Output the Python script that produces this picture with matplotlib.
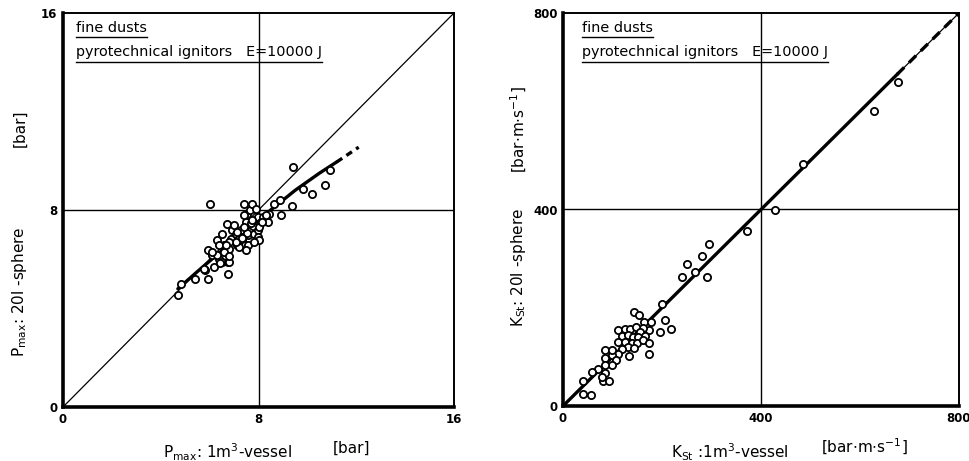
import matplotlib
matplotlib.use("Agg")
import matplotlib.pyplot as plt

# ---------------- data ----------------
# Left: Pmax 1 m3 vessel (x) vs Pmax 20 l sphere (y), bar
pmax_1m3 = [4.70, 4.81, 5.39, 5.93, 5.83, 5.94, 6.03, 6.17, 6.10, 6.38, 6.31, 6.49, 6.58, 6.52,
            6.76, 6.76, 6.72, 6.79, 6.86, 6.93, 7.06, 7.13, 7.20, 7.27, 7.34, 7.45, 7.41, 7.54,
            7.48, 7.59, 7.64, 7.75, 7.78, 7.82, 7.89, 7.96, 7.96, 7.99, 8.02, 8.09, 8.19, 8.37,
            8.41, 8.64, 8.87, 8.92, 9.36, 9.40, 9.81, 10.19, 10.73, 10.91,
            5.76, 6.44, 6.79, 6.31, 6.58, 6.79, 6.10, 7.20, 7.06, 6.79, 7.54, 7.33, 7.58, 7.81,
            8.02, 8.16, 7.40, 7.13, 7.68, 6.99, 7.74, 7.47, 6.38, 6.65, 8.29, 7.40]
pmax_20l = [4.53, 4.98, 5.20, 5.20, 5.58, 6.39, 8.23, 5.68, 6.16, 6.02, 6.79, 7.04, 6.56, 5.89,
            5.41, 5.89, 7.42, 6.42, 6.83, 7.17, 7.04, 6.56, 6.83, 7.20, 6.77, 6.56, 8.23, 7.85,
            7.51, 6.97, 8.00, 8.23, 7.33, 7.04, 8.04, 7.71, 7.20, 6.90, 6.77, 7.51, 7.71, 7.51,
            7.85, 8.23, 8.42, 7.79, 8.18, 9.74, 8.84, 8.66, 9.03, 9.64,
            5.59, 5.86, 5.90, 6.17, 6.31, 6.13, 6.31, 6.51, 6.71, 6.71, 7.05, 6.85, 6.58, 6.71,
            7.32, 7.53, 7.32, 7.12, 7.46, 7.39, 7.60, 6.38, 6.58, 6.58, 7.80, 7.80]
# fitted curve (solid part and dashed extrapolation)
pfit_x = [4.7, 5.5, 6.5, 7.5, 8.5, 9.5, 10.5, 11.2]
pfit_y = [4.8, 5.5, 6.35, 7.2, 8.0, 8.8, 9.5, 9.95]
pext_x = [11.2, 12.1]
pext_y = [9.95, 10.55]

# Right: KSt 1 m3 vessel (x) vs KSt 20 l sphere (y), bar m/s
kst_1m3 = [676, 628, 484, 429, 371, 295, 280, 250, 267, 240, 290, 199, 206, 218, 195,
           143, 154, 164, 177, 174, 162, 112, 125, 135, 147, 156, 119, 132, 142, 152,
           166, 112, 125, 139, 149, 162, 174, 174, 132, 143, 119, 133, 112, 98, 85,
           98, 85, 108, 98, 85, 71, 59, 85, 80, 93, 41, 40, 57, 78]
kst_20l = [659, 601, 493, 399, 356, 330, 306, 289, 273, 262, 262, 208, 176, 157, 151,
           192, 185, 170, 170, 155, 158, 155, 156, 156, 160, 151, 142, 145, 141, 141,
           142, 131, 131, 128, 129, 134, 128, 106, 121, 119, 117, 102, 106, 104, 114,
           114, 97, 94, 83, 83, 75, 70, 67, 50, 50, 51, 24, 22, 60]
kfit_x = [0, 675]
kfit_y = [0, 675]
kext_x = [675, 800]
kext_y = [675, 800]

# ticks
p_ticks = [0, 8, 16]
k_ticks = [0, 400, 800]
title1 = "fine dusts"
title2 = "pyrotechnical ignitors   E=10000 J"

# ---------------- figure ----------------
W, H = 970, 461
fig = plt.figure(figsize=(W / 100, H / 100), dpi=100)
fig.patch.set_facecolor("white")

axL = fig.add_axes([63 / W, 1 - 407 / H, 391 / W, 394 / H])
axR = fig.add_axes([563 / W, 1 - 406 / H, 396 / W, 393 / H])


def style(ax, ticks, lim):
    ax.set_xlim(0, lim)
    ax.set_ylim(0, lim)
    ax.set_xticks(ticks)
    ax.set_yticks(ticks)
    ax.set_xticklabels([str(t) for t in ticks], fontsize=8.5, fontweight="bold")
    ax.set_yticklabels([str(t) for t in ticks], fontsize=8.5, fontweight="bold")
    ax.tick_params(length=0, pad=4)
    for s in ["left", "bottom"]:
        ax.spines[s].set_linewidth(2.6)
    for s in ["top", "right"]:
        ax.spines[s].set_linewidth(1.4)
    ax.axvline(ticks[1], color="black", lw=1.0, zorder=1)
    ax.axhline(ticks[1], color="black", lw=1.0, zorder=1)
    ax.plot([0, lim], [0, lim], color="black", lw=0.9, zorder=1)


style(axL, p_ticks, 16)
style(axR, k_ticks, 800)

mk = dict(ls="none", marker="o", ms=5.2, mfc="white", mec="black", mew=1.3, zorder=3)
axL.plot(pmax_1m3, pmax_20l, **mk)
axL.plot(pfit_x, pfit_y, color="black", lw=2.4, zorder=2, solid_capstyle="round")
axL.plot(pext_x, pext_y, color="black", lw=2.4, ls=(0, (2, 1.5)), zorder=2)

axR.plot(kst_1m3, kst_20l, **mk)
axR.plot(kfit_x, kfit_y, color="black", lw=2.4, zorder=2)
axR.plot(kext_x, kext_y, color="black", lw=2.4, ls=(0, (3, 2)), zorder=2)

# header texts with underline
txts = []
for ax, x0 in [(axL, 0.033), (axR, 0.048)]:
    t1 = ax.text(x0, 0.952, title1, transform=ax.transAxes, fontsize=10.4, va="baseline")
    t2 = ax.text(x0, 0.890, title2, transform=ax.transAxes, fontsize=10.4, va="baseline")
    txts.append((ax, t1))
    txts.append((ax, t2))

fig.canvas.draw()
r = fig.canvas.get_renderer()
for ax, t in txts:
    bb = t.get_window_extent(renderer=r)
    inv = ax.transAxes.inverted()
    (xa, ya), (xb, yb) = inv.transform([(bb.x0, bb.y0), (bb.x1, bb.y0)])
    ya -= 0.006
    ax.plot([xa, xb], [ya, ya], transform=ax.transAxes, color="black", lw=1.0, clip_on=False)

# axis labels
def fx(px):
    return px / W


def fy(py):
    return 1 - py / H


fs = 11
fig.text(fx(228), fy(452), r"P$_{\mathregular{max}}$: 1m$^{3}$-vessel", ha="center", va="center", fontsize=fs)
fig.text(fx(352), fy(448), "[bar]", ha="center", va="center", fontsize=fs)
fig.text(fx(20), fy(292), r"P$_{\mathregular{max}}$: 20l -sphere", ha="center", va="center", fontsize=fs, rotation=90)
fig.text(fx(20), fy(128), "[bar]", ha="center", va="center", fontsize=fs, rotation=90)

fig.text(fx(730), fy(452), r"K$_{\mathregular{St}}$ :1m$^{3}$-vessel", ha="center", va="center", fontsize=fs)
fig.text(fx(864), fy(447), r"[bar$\cdot$m$\cdot$s$^{-1}$]", ha="center", va="center", fontsize=fs)
fig.text(fx(519), fy(267), r"K$_{\mathregular{St}}$: 20l -sphere", ha="center", va="center", fontsize=fs, rotation=90)
fig.text(fx(519), fy(130), r"[bar$\cdot$m$\cdot$s$^{-1}$]", ha="center", va="center", fontsize=fs, rotation=90)

fig.savefig("out.png", dpi=100, facecolor="white")
